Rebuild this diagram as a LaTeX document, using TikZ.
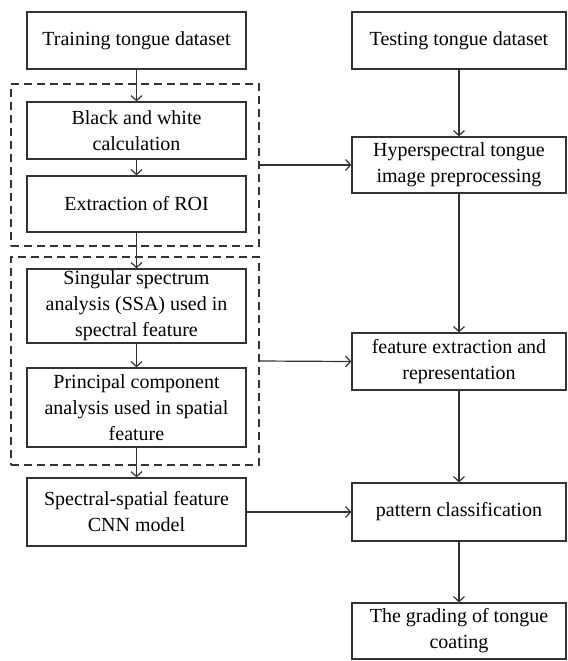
\documentclass[tikz,border=0pt]{standalone}
\usepackage{fontspec}
\setmainfont{LiberationSerif}[Extension=.ttf,UprightFont=*-Regular,BoldFont=*-Bold]
\usetikzlibrary{arrows.meta}
\tikzset{
    procbox/.style={draw=black!80,line width=0.65pt,align=center,inner sep=1pt,font=\rmfamily\fontsize{10}{13}\selectfont},
    leftbox/.style={procbox,minimum width=109.5pt},
    rightbox/.style={procbox,minimum width=107pt},
    groupbox/.style={draw=black!80,line width=0.6pt,dash pattern=on 4pt off 2.5pt,minimum width=124pt},
    flow/.style={draw=black!80,line width=0.6pt,-{Straight Barb[length=2.5pt,width=5.5pt]}}
}
\begin{document}
\begin{tikzpicture}[x=0.5pt,y=-0.5pt]
    \useasboundingbox (0,0) rectangle (568,661);
    % dashed groups
    \node[groupbox,minimum height=81pt] (grpa) at (135,165) {};
    \node[groupbox,minimum height=104pt] (grpb) at (135,361) {};
    % left column
    \node[leftbox,minimum height=28.5pt] (train) at (136.5,40.5) {Training tongue dataset};
    \node[leftbox,minimum height=28.5pt] (bw) at (136.5,130.5) {Black and white\\calculation};
    \node[leftbox,minimum height=28pt] (roi) at (136.5,204) {Extraction of ROI};
    \node[leftbox,minimum height=36pt] (ssa) at (136.5,306) {Singular spectrum\\analysis (SSA) used in\\spectral feature};
    \node[leftbox,minimum height=39.5pt] (pca) at (136.5,407.5) {Principal component\\analysis used in spatial\\feature};
    \node[leftbox,minimum height=34pt] (cnn) at (136.5,512) {Spectral-spatial feature\\CNN model};
    % right column
    \node[rightbox,minimum height=28.5pt] (test) at (459,40.5) {Testing tongue dataset};
    \node[rightbox,minimum height=28pt] (hyper) at (459,165) {Hyperspectral tongue\\image preprocessing};
    \node[rightbox,minimum height=28.5pt] (feat) at (459,361.5) {feature extraction and\\representation};
    \node[rightbox,minimum height=29pt] (pat) at (459,512) {pattern classification};
    \node[rightbox,minimum height=28pt] (grade) at (459,631) {The grading of tongue\\coating};
    % connectors
    \draw[flow] (train) -- (bw);
    \draw[flow] (bw) -- (roi);
    \draw[flow] (roi) -- (ssa);
    \draw[flow] (ssa) -- (pca);
    \draw[flow] (pca) -- (cnn);
    \draw[flow] (test) -- (hyper);
    \draw[flow] (hyper) -- (feat);
    \draw[flow] (feat) -- (pat);
    \draw[flow] (pat) -- (grade);
    \draw[flow] (grpa.east) -- (hyper.west);
    \draw[flow] (grpb.east) -- (feat.west);
    \draw[flow] (cnn) -- (pat);
\end{tikzpicture}
\end{document}
